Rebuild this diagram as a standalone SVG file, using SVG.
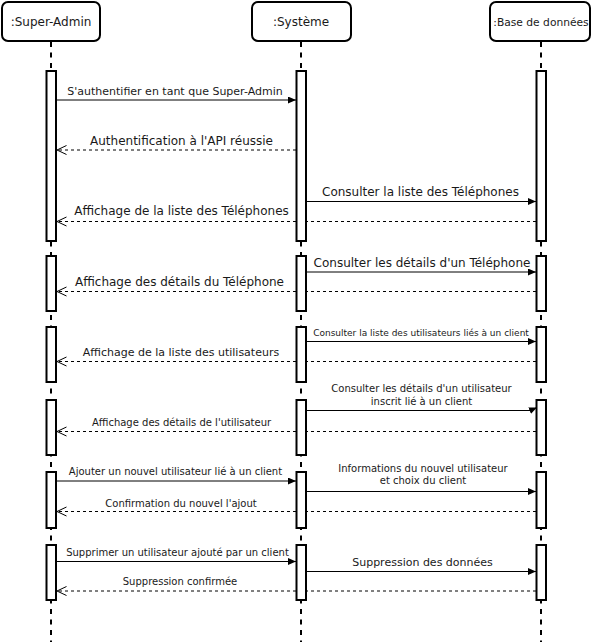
<svg xmlns="http://www.w3.org/2000/svg" width="595" height="642" viewBox="0 0 595 642">
<style>
.hdr{fill:#fff;stroke:#000;stroke-width:2}
.life{stroke:#000;stroke-width:2;stroke-dasharray:5 5.5;fill:none}
.act{fill:#fff;stroke:#000;stroke-width:2}
.msg{stroke:#000;stroke-width:1;fill:none}
.ret{stroke:#000;stroke-width:1;fill:none;stroke-dasharray:3 3}
text{font-family:"DejaVu Sans",Verdana,sans-serif;fill:#1a1a1a;text-anchor:middle}
.t12{font-size:12px}.t11{font-size:11px}.t10{font-size:10px}.t9{font-size:9px}
</style>
<defs>
<marker id="block" markerUnits="userSpaceOnUse" markerWidth="9" markerHeight="8" refX="8" refY="3.5" orient="auto">
<path d="M0,0 L8,3.5 L0,7 z" fill="#000"/>
</marker>
<marker id="open" markerUnits="userSpaceOnUse" markerWidth="11" markerHeight="11" refX="10" refY="5" orient="auto">
<path d="M0.5,0.5 L10,5 L0.5,9.5" fill="none" stroke="#000" stroke-width="1"/>
</marker>
</defs>
<rect width="595" height="642" fill="#fff"/>

<g id="node-superadmin">
<line class="life" x1="51" y1="42" x2="51" y2="642"/>
<rect class="hdr" x="2" y="2" width="98" height="39" rx="6"/>
<text class="t12" x="51" y="26">:Super-Admin</text>
</g>
<g id="node-systeme">
<line class="life" x1="301" y1="42" x2="301" y2="642"/>
<rect class="hdr" x="252" y="2" width="99" height="39" rx="6"/>
<text class="t12" x="301" y="26">:Système</text>
</g>
<g id="node-bdd">
<line class="life" x1="541" y1="42" x2="541" y2="642"/>
<rect class="hdr" x="490" y="2" width="100" height="39" rx="6"/>
<text x="541" y="26" style="font-size:10.7px">:Base de données</text>
</g>

<g id="connectors">
<line class="msg" x1="57" y1="100" x2="296" y2="100" marker-end="url(#block)"/>
<text class="t11" x="175" y="95">S'authentifier en tant que Super-Admin</text>

<line class="ret" x1="296" y1="150" x2="57" y2="150" marker-end="url(#open)"/>
<text class="t12" x="181.5" y="145">Authentification à l'API réussie</text>

<line class="msg" x1="306" y1="201.5" x2="536" y2="201.5" marker-end="url(#block)"/>
<text class="t12" x="420.5" y="195.5">Consulter la liste des Téléphones</text>

<line class="ret" x1="536" y1="221.5" x2="57" y2="221.5" marker-end="url(#open)"/>
<text class="t12" x="181.5" y="215">Affichage de la liste des Téléphones</text>

<line class="msg" x1="306" y1="272" x2="536" y2="272" marker-end="url(#block)"/>
<text class="t12" x="422" y="266.5">Consulter les détails d'un Téléphone</text>

<line class="ret" x1="536" y1="291.5" x2="57" y2="291.5" marker-end="url(#open)"/>
<text class="t12" x="179.5" y="286">Affichage des détails du Téléphone</text>

<line class="msg" x1="306" y1="341.5" x2="536" y2="341.5" marker-end="url(#block)"/>
<text class="t9" x="421" y="336">Consulter la liste des utilisateurs liés à un client</text>

<line class="ret" x1="536" y1="361.5" x2="57" y2="361.5" marker-end="url(#open)"/>
<text class="t11" x="181" y="356">Affichage de la liste des utilisateurs</text>

<path class="msg" d="M306,410.5 L530,410.5 L537,407.5" marker-end="url(#block)"/>
<text class="t10" x="421.5" y="391.5">Consulter les détails d'un utilisateur</text>
<text class="t10" x="421.5" y="404.5">inscrit lié à un client</text>

<line class="ret" x1="536" y1="431.5" x2="57" y2="431.5" marker-end="url(#open)"/>
<text class="t10" x="181.5" y="425.7">Affichage des détails de l'utilisateur</text>

<line class="msg" x1="57" y1="481" x2="296" y2="481" marker-end="url(#block)"/>
<text class="t10" x="175.5" y="475">Ajouter un nouvel utilisateur lié à un client</text>

<line class="msg" x1="306" y1="491.5" x2="536" y2="491.5" marker-end="url(#block)"/>
<text class="t10" x="423" y="471.7">Informations du nouvel utilisateur</text>
<text class="t10" x="423" y="484.3">et choix du client</text>

<line class="ret" x1="536" y1="511.5" x2="57" y2="511.5" marker-end="url(#open)"/>
<text class="t10" x="181" y="506.5">Confirmation du nouvel l'ajout</text>

<line class="msg" x1="57" y1="561.5" x2="296" y2="561.5" marker-end="url(#block)"/>
<text class="t10" x="177.5" y="555.7">Supprimer un utilisateur ajouté par un client</text>

<line class="msg" x1="306" y1="571.5" x2="536" y2="571.5" marker-end="url(#block)"/>
<text class="t11" x="422.5" y="565.7">Suppression des données</text>

<line class="ret" x1="536" y1="591" x2="57" y2="591" marker-end="url(#open)"/>
<text class="t10" x="180" y="585">Suppression confirmée</text>
</g>

<g id="activations-superadmin">
<rect class="act" x="46.5" y="71" width="9.5" height="170"/>
<rect class="act" x="46.5" y="256" width="9.5" height="55"/>
<rect class="act" x="46.5" y="327" width="9.5" height="55"/>
<rect class="act" x="46.5" y="400" width="9.5" height="55"/>
<rect class="act" x="46.5" y="472" width="9.5" height="56"/>
<rect class="act" x="46.5" y="545" width="9.5" height="55"/>
</g>
<g id="activations-systeme">
<rect class="act" x="296.5" y="71" width="9.5" height="170"/>
<rect class="act" x="296.5" y="256" width="9.5" height="55"/>
<rect class="act" x="296.5" y="327" width="9.5" height="55"/>
<rect class="act" x="296.5" y="400" width="9.5" height="55"/>
<rect class="act" x="296.5" y="472" width="9.5" height="56"/>
<rect class="act" x="296.5" y="545" width="9.5" height="55"/>
</g>
<g id="activations-bdd">
<rect class="act" x="536.5" y="71" width="9.5" height="170"/>
<rect class="act" x="536.5" y="256" width="9.5" height="55"/>
<rect class="act" x="536.5" y="327" width="9.5" height="55"/>
<rect class="act" x="536.5" y="400" width="9.5" height="55"/>
<rect class="act" x="536.5" y="472" width="9.5" height="56"/>
<rect class="act" x="536.5" y="545" width="9.5" height="55"/>
</g>
</svg>
